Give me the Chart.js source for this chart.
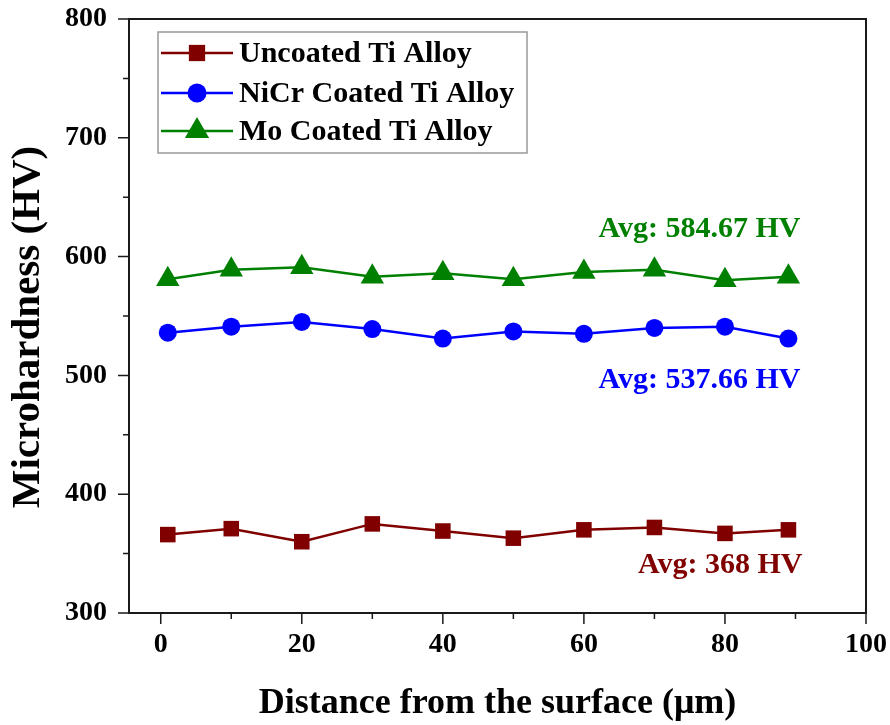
<!DOCTYPE html>
<html>
<head>
<meta charset="utf-8">
<script src="https://cdn.jsdelivr.net/npm/chart.js@4.4.1/dist/chart.umd.min.js"></script>
<style>
  html, body { margin: 0; padding: 0; background: #fff; }
  #hardnessChart { display: block; }
</style>
</head>
<body>
<canvas id="hardnessChart" width="890" height="725"></canvas>
<script>
// data
const distances = [1, 10, 20, 30, 40, 50, 60, 70, 80, 89];
const uncoated = [366, 371, 360, 375, 369, 363, 370, 372, 367, 370];
const nicrCoated = [536, 541, 545, 539, 531, 537, 535, 540, 541, 531];
const moCoated = [581, 589, 591, 583, 586, 581, 587, 589, 580, 583];
const seriesNames = ['Uncoated Ti Alloy', 'NiCr Coated Ti Alloy', 'Mo Coated Ti Alloy'];
const avgLabels = ['Avg: 368 HV', 'Avg: 537.66 HV', 'Avg: 584.67 HV'];
const xTicks = [0, 20, 40, 60, 80, 100];
const xMinorTicks = [10, 30, 50, 70, 90];
const yTicks = [300, 400, 500, 600, 700, 800];
const yMinorTicks = [350, 450, 550, 650, 750];

const serif = "'Liberation Serif', 'Times New Roman', serif";
const colors = ['#800000', '#0000ff', '#008000'];
const markers = [
    { style: 'rect', radius: 11 },
    { style: 'circle', radius: 9 },
    { style: 'triangle', radius: 13.5 }
];
// where the avg labels sit (right edge, baseline) in data units
const avgAnchors = [[91, 334], [90.7, 489.7], [90.7, 616.7]];

function toPoints(values) {
    return values.map((v, i) => ({ x: distances[i], y: v }));
}

const datasets = [uncoated, nicrCoated, moCoated].map((vals, i) => ({
    label: seriesNames[i],
    data: toPoints(vals),
    borderColor: colors[i],
    backgroundColor: colors[i],
    borderWidth: 2.5,
    pointStyle: markers[i].style,
    pointRadius: markers[i].radius,
    pointHoverRadius: markers[i].radius,
    pointBorderWidth: 0,
    tension: 0
}));

const decorations = {
    id: 'decorations',
    afterDraw(chart) {
        const ctx = chart.ctx;
        const area = chart.chartArea;
        const xs = chart.scales.x, ys = chart.scales.y;

        ctx.save();
        // frame
        ctx.strokeStyle = '#1a1a1a';
        ctx.lineWidth = 2;
        ctx.strokeRect(area.left, area.top, area.right - area.left, area.bottom - area.top);

        // ticks pointing out
        ctx.lineWidth = 1.5;
        ctx.beginPath();
        xTicks.forEach(v => { const p = xs.getPixelForValue(v); ctx.moveTo(p, area.bottom); ctx.lineTo(p, area.bottom + 11); });
        xMinorTicks.forEach(v => { const p = xs.getPixelForValue(v); ctx.moveTo(p, area.bottom); ctx.lineTo(p, area.bottom + 6); });
        yTicks.forEach(v => { const p = ys.getPixelForValue(v); ctx.moveTo(area.left, p); ctx.lineTo(area.left - 11, p); });
        yMinorTicks.forEach(v => { const p = ys.getPixelForValue(v); ctx.moveTo(area.left, p); ctx.lineTo(area.left - 6, p); });
        ctx.stroke();

        // y axis title
        ctx.fillStyle = '#000';
        ctx.font = 'bold 41px ' + serif;
        ctx.textAlign = 'center';
        ctx.textBaseline = 'middle';
        ctx.translate(28, 327);
        ctx.rotate(-Math.PI / 2);
        ctx.fillText('Microhardness (HV)', 0, 0);
        ctx.setTransform(1, 0, 0, 1, 0, 0);

        // legend box
        const lx = 158, ly = 32, lw = 369, lh = 121;
        ctx.fillStyle = '#fff';
        ctx.fillRect(lx, ly, lw, lh);
        ctx.strokeStyle = '#999';
        ctx.lineWidth = 1.5;
        ctx.strokeRect(lx, ly, lw, lh);
        const rows = [53, 93, 131];
        chart.data.datasets.forEach((ds, i) => {
            const y = rows[i];
            ctx.strokeStyle = ds.borderColor;
            ctx.lineWidth = 2.5;
            ctx.beginPath();
            ctx.moveTo(161, y);
            ctx.lineTo(233, y);
            ctx.stroke();
            ctx.fillStyle = ds.backgroundColor;
            Chart.helpers.drawPoint(ctx, { pointStyle: ds.pointStyle, radius: ds.pointRadius + 0.5, rotation: 0, borderWidth: 0 }, 197, y);
            ctx.fillStyle = '#000';
            ctx.font = 'bold 30px ' + serif;
            ctx.textAlign = 'left';
            ctx.textBaseline = 'middle';
            ctx.fillText(ds.label, 239, y + 1);
        });

        // average labels
        ctx.font = 'bold 30px ' + serif;
        ctx.textAlign = 'right';
        ctx.textBaseline = 'alphabetic';
        avgLabels.forEach((t, i) => {
            ctx.fillStyle = colors[i];
            ctx.fillText(t, xs.getPixelForValue(avgAnchors[i][0]), ys.getPixelForValue(avgAnchors[i][1]));
        });
        ctx.restore();
    }
};

new Chart(document.getElementById('hardnessChart').getContext('2d'), {
    type: 'line',
    data: { datasets: datasets },
    options: {
        responsive: false,
        animation: false,
        layout: { padding: { top: 19, right: 24, left: 0, bottom: 0 } },
        plugins: { legend: { display: false }, tooltip: { enabled: false } },
        scales: {
            x: {
                type: 'linear',
                min: -4.5,
                max: 100,
                grid: { display: false, drawTicks: false },
                border: { display: false },
                afterBuildTicks: s => { s.ticks = xTicks.map(v => ({ value: v })); },
                afterFit: s => { s.height = 112; s.paddingLeft = 0; s.paddingRight = 0; },
                ticks: { padding: 15, color: '#000', font: { family: serif, size: 28, weight: 'bold' } },
                title: {
                    display: true,
                    text: 'Distance from the surface (\u03bcm)',
                    color: '#000',
                    font: { family: serif, size: 36, weight: 'bold' },
                    padding: { top: 0, bottom: 0 }
                }
            },
            y: {
                min: 300,
                max: 800,
                grid: { display: false, drawTicks: false },
                border: { display: false },
                afterBuildTicks: s => { s.ticks = yTicks.map(v => ({ value: v })); },
                afterFit: s => { s.width = 129; s.paddingTop = 0; s.paddingBottom = 0; },
                ticks: { padding: 22, color: '#000', font: { family: serif, size: 28, weight: 'bold' } }
            }
        }
    },
    plugins: [decorations]
});
</script>
</body>
</html>
